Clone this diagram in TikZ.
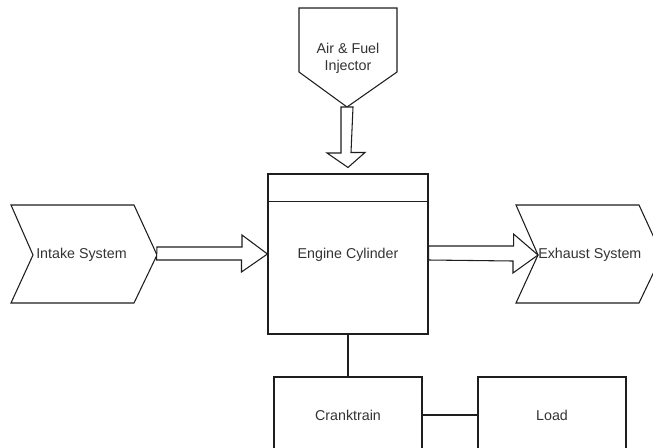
\documentclass[tikz,border=0pt]{standalone}
\usepackage{fontspec}
\setmainfont{Liberation Sans}
\usetikzlibrary{calc}
\definecolor{txt}{RGB}{51,51,51}
\definecolor{ln}{RGB}{30,30,30}
\tikzset{
  lbl/.style={font=\fontsize{10.7}{13}\selectfont, text=txt, align=center, inner sep=0pt},
  boxnode/.style={draw=ln, line width=0.8pt, rectangle, inner sep=0pt, fill=white},
  outline/.style={draw=ln, line width=0.8pt, fill=white, line join=miter},
  conn/.style={draw=ln, line width=0.8pt}
}
\begin{document}
\begin{tikzpicture}[x=0.75pt, y=-0.75pt]
\useasboundingbox (0,0) rectangle (653,447);
\clip (0,0) rectangle (653,447);
% nodes
\node[boxnode, minimum width=120pt, minimum height=120pt] (engine) at (348,254) {};
\node[lbl] (enginetxt) at (348,255) {Engine Cylinder};
\draw[conn] ($(engine.north west)+(0,28)$) -- ($(engine.north east)+(0,28)$);
\node[boxnode, minimum width=111pt, minimum height=57pt] (crank) at (348,415) {};
\node[lbl] at (crank.center) {Cranktrain};
\node[boxnode, minimum width=111pt, minimum height=57pt] (load) at (552,415) {};
\node[lbl] at (load.center) {Load};
% injector
\coordinate (injtip) at (347,107);
\draw[outline] (299,8) -- (397,8) -- (397,72) -- (injtip) -- (299,72) -- cycle;
\node[lbl] (inj) at (348,58) {Air \& Fuel\\Injector};
% intake chevron
\coordinate (intip) at (157,255);
\draw[outline] (11,205) -- (134,205) -- (intip) -- (134,303) -- (11,303) -- (33,255) -- cycle;
\node[lbl, anchor=west] (intake) at (36,255) {Intake System};
% exhaust chevron
\coordinate (exnotch) at (538,255);
\draw[outline] (516,205) -- (639,205) -- (662,255) -- (639,303) -- (516,303) -- (exnotch) -- cycle;
\node[lbl, anchor=west] (exhaust) at (538,255) {Exhaust System};
% block arrows
\draw[outline] (intip) ++(0,-8) -- ++(85,0) -- ++(0,-12) -- (engine.west) -- ++(-26,18) -- ++(0,-12) -- ++(-85,0) -- cycle;
\draw[outline] ($(engine.east)+(0,-8)$) -- ++(85,0) -- ++(0,-12) -- (exnotch) -- ++(-25,18) -- ++(0,-12) -- ($(engine.east)+(0,6)$) -- cycle;
\draw[outline] ($(injtip)+(-6,0)$) -- ++(0,46) -- ++(-14,0) -- ($(engine.north)+(0,-6)$) -- ++(17,-15) -- ++(-14,0) -- ($(injtip)+(6,0)$) -- cycle;
% connectors
\draw[conn] (engine.south) -- (crank.north);
\draw[conn] (crank.east) -- (load.west);
\end{tikzpicture}
\end{document}
